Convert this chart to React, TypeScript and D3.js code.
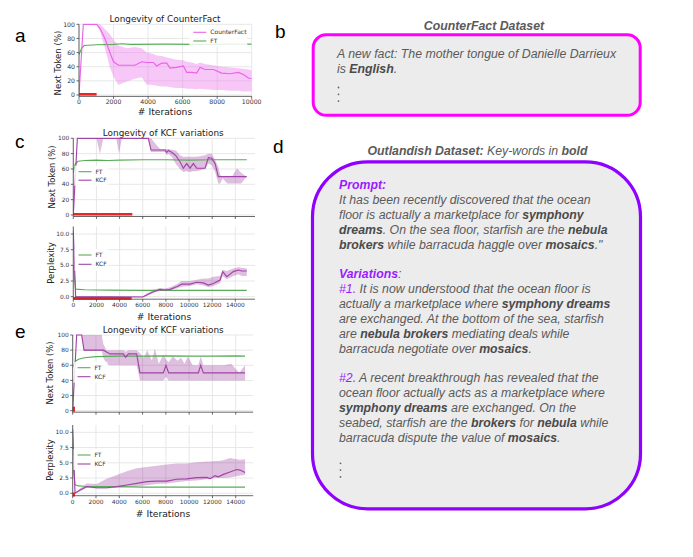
import * as d3 from 'd3';

// ---- panel a: CounterFact ----
const cfIters = [0, 250, 1020, 1220, 1500, 1800, 2000, 2280, 2760, 3240, 3630, 3920, 4300, 4500, 4790, 5080, 5270, 5660, 6040, 6240, 6530, 6810, 7010, 7300, 7780, 8260, 8750, 9230, 9520, 9810, 10000];
const cfMean = [0, 100, 100, 94, 80, 59, 47, 42, 42, 42, 47, 46, 46, 41, 45, 45, 38, 39, 41, 32, 32, 31, 39, 36, 36, 31, 30, 32, 29, 24, 23];
const cfUpper = [0, 100, 100, 100, 93, 86, 78, 70, 66, 68, 66, 60, 58, 56, 55, 53, 52, 50, 49, 47, 46, 44, 46, 44, 42, 40, 39, 38, 37, 36, 35];
const cfLower = [0, 100, 100, 90, 66, 38, 26, 14, 19, 23, 25, 15, 14, 13, 12, 12, 11, 10, 10, 9, 9, 8, 9, 8, 7, 7, 6, 6, 5, 5, 5];
const ftAIters = [0, 150, 300, 1000, 2000, 2500, 3000, 5000, 7000, 9000, 10000];
const ftA = [57, 66, 70, 71, 71.5, 72.5, 71.5, 72, 71.5, 72, 72];

// ---- panel c: KCF, next token ----
const kcfCIters = [0, 350, 6480, 6720, 7925, 8075, 8215, 8505, 8875, 9220, 9510, 9800, 10085, 10370, 10665, 11385, 11670, 11960, 12250, 12530, 14990];
const kcfC = [0, 100, 100, 84.7, 84.7, 81.7, 84, 81.7, 77, 69.5, 61, 67, 61, 67, 61, 61, 74.7, 74, 67, 50, 50];
const kcfCBandIters = [0, 350, 2000, 2300, 2600, 3700, 3950, 4200, 6480, 6720, 7200, 7500, 7925, 8075, 8215, 8505, 8875, 9220, 9510, 9800, 10085, 10370, 10665, 11385, 11670, 11960, 12250, 12530, 12700, 12900, 13300, 13700, 14150, 14500, 14990];
const kcfCUpper = [0, 100, 100, 100, 100, 100, 100, 100, 100, 100, 91, 86, 86, 86, 86, 85, 84, 78, 76, 76, 76, 76, 76, 78, 80, 80, 72, 63, 52, 50, 50, 50, 61, 55, 50];
const kcfCLower = [0, 100, 100, 80, 100, 100, 80, 100, 100, 82, 82, 82, 82, 78, 80, 76, 66, 60, 56, 57, 56, 57, 57, 60, 67, 65, 56, 41, 41, 48, 41, 41, 41, 41, 50];
const ftCIters = [0, 150, 400, 1000, 2000, 3000, 4000, 6000, 8000, 10000, 12000, 14990];
const ftC = [55, 66, 70, 71, 71.5, 71, 71.5, 72, 72, 71.5, 72, 72];

// ---- panel c: KCF, perplexity ----
const pplCIters = [0, 200, 6000, 6340, 6920, 7490, 7920, 8360, 8930, 9370, 10090, 10660, 11240, 11670, 12100, 12680, 12910, 13260, 13830, 14270, 14550, 14990];
const pplC = [10.5, 0, -0.05, 0.27, 0.8, 1.17, 1.06, 1.17, 1.6, 2.0, 2.0, 2.3, 2.2, 1.86, 2.1, 2.66, 4.0, 3.2, 4.0, 4.25, 4.1, 4.1];
const pplCUpper = [10.5, 0.1, 0.05, 0.5, 1.1, 1.4, 1.3, 1.5, 2.0, 2.5, 2.5, 2.7, 2.9, 2.9, 3.2, 3.3, 4.3, 4.1, 4.5, 4.7, 4.6, 4.5];
const pplCLower = [10.5, -0.1, -0.05, 0.1, 0.6, 0.9, 0.9, 1.0, 1.3, 1.6, 1.7, 2.0, 1.8, 1.5, 1.7, 2.2, 3.3, 2.8, 3.3, 3.6, 3.3, 3.3];
const ftPplCIters = [0, 200, 1000, 3000, 6000, 10000, 14990];
const ftPplC = [5.0, 1.2, 1.1, 1.05, 1.0, 1.0, 1.0];

// ---- panel e: KCF, next token ----
const kcfEIters = [0, 340, 770, 970, 2630, 3200, 4350, 4550, 4780, 5490, 5780, 7780, 8010, 8240, 10790, 10990, 11220, 14800];
const kcfE = [0, 100, 100, 80, 80, 75, 75, 70.5, 75, 75, 50, 50, 60, 50, 50, 60, 50, 50];
const kcfEBandIters = [0, 340, 770, 970, 2490, 2630, 2900, 3200, 4350, 4550, 4780, 5490, 5780, 6100, 6400, 6800, 7050, 7400, 7780, 8010, 8240, 8600, 9000, 9300, 9600, 9900, 10300, 10790, 10990, 11220, 12000, 13000, 13600, 14300, 14800];
const kcfEUpper = [0, 100, 100, 100, 100, 88, 80, 80, 80, 78, 80, 80, 76, 70, 80, 66, 82, 62, 74, 68, 64, 72, 66, 70, 62, 72, 60, 60, 72, 60, 60, 60, 62, 50, 60];
const kcfELower = [0, 100, 100, 79, 79, 70, 62, 60, 60, 60, 60, 60, 40, 40, 40, 40, 40, 40, 40, 45, 40, 40, 40, 40, 40, 40, 40, 40, 40, 40, 40, 40, 40, 40, 40];
const ftEIters = [0, 200, 500, 1000, 2000, 4000, 6000, 8000, 10000, 12000, 14000, 14800];
const ftE = [57, 65, 68, 70, 71.5, 72, 72, 72.5, 72, 72, 72.5, 72];

// ---- panel e: KCF, perplexity ----
const pplEIters = [0, 200, 630, 1200, 2060, 2920, 3780, 4640, 5500, 6360, 7210, 8070, 8930, 9790, 10650, 11510, 11800, 12220, 12500, 12940, 13510, 14080, 14370, 14800];
const pplE = [10.5, 0, 0.54, 1.08, 0.9, 0.9, 1.08, 1.36, 1.63, 1.9, 2.0, 2.0, 2.3, 2.35, 2.57, 2.6, 2.4, 2.9, 2.7, 3.1, 3.5, 3.9, 3.8, 3.4];
const pplEUpper = [10.5, 0.1, 0.8, 1.6, 1.5, 2.4, 3.0, 3.6, 4.1, 4.3, 4.5, 4.7, 4.9, 4.9, 5.1, 5.2, 5.2, 5.3, 5.3, 5.4, 5.8, 5.6, 5.5, 5.6];
const pplELower = [10.5, -0.1, 0.3, 0.9, 0.8, 0.8, 0.9, 1.0, 1.1, 1.3, 1.5, 1.6, 1.8, 2.0, 2.1, 2.3, 2.3, 2.5, 2.5, 2.5, 2.6, 2.8, 2.9, 3.0];
const ftPplEIters = [0, 200, 500, 1000, 2000, 4000, 6000, 10000, 14800];
const ftPplE = [5.0, 1.4, 1.2, 1.15, 1.1, 1.1, 1.0, 1.0, 1.0];

const pctTicks = [0, 20, 40, 60, 80, 100];
const pplTicks = [0, 2.5, 5, 7.5, 10];
const iterTicksA = [0, 2000, 4000, 6000, 8000, 10000];
const iterTicks = [0, 2000, 4000, 6000, 8000, 10000, 12000, 14000];

const PINK = '#eb62eb';
const PURPLE = '#a044a6';
const GREEN = '#58ac58';
const RED = '#ee2424';
const GRAY = '#5a5a5a';
const ACCENT = '#9b1cff';

interface Series { iters: number[]; values: number[]; color: string }
interface Band { iters: number[]; upper: number[]; lower: number[]; color: string; opacity: number }
interface PlotProps {
  id: string;
  left: number; right: number; top: number; bottom: number;
  xDomain: [number, number]; yDomain: [number, number];
  xTicks: number[]; yTicks: number[];
  yFmt: (v: number) => string;
  xLabels: boolean;
  tickFont: number;
  bands: Band[]; lines: Series[];
  red: { from: number; to: number; y: number; width: number };
  legend: { x: number; y: number; dy: number; w: number; items: { label: string; color: string }[] };
}

function Subplot(p: PlotProps) {
  const x = d3.scaleLinear().domain(p.xDomain).range([p.left, p.right]);
  const y = d3.scaleLinear().domain(p.yDomain).range([p.bottom, p.top]);
  const line = (s: Series) =>
    d3.line<number>().x((_, i) => x(s.iters[i])).y(v => y(v))(s.values) || '';
  const area = (b: Band) =>
    d3.area<number>().x((_, i) => x(b.iters[i])).y0((_, i) => y(b.lower[i])).y1(v => y(v))(b.upper) || '';
  const lg = p.legend;
  return (
    <g>
      <defs>
        <clipPath id={p.id}>
          <rect x={p.left} y={p.top - 1} width={p.right - p.left} height={p.bottom - p.top + 1} />
        </clipPath>
      </defs>
      {/* grid */}
      {p.xTicks.map(t => (
        <line key={'gx' + t} x1={x(t)} x2={x(t)} y1={p.top} y2={p.bottom} stroke="#e4e4e4" strokeWidth={0.9} />
      ))}
      {p.yTicks.map(t => (
        <line key={'gy' + t} x1={p.left} x2={p.right} y1={y(t)} y2={y(t)} stroke="#e4e4e4" strokeWidth={0.9} />
      ))}
      <g clipPath={`url(#${p.id})`}>
        {p.bands.map((b, i) => (
          <path key={'b' + i} d={area(b)} fill={b.color} fillOpacity={b.opacity} stroke="none" />
        ))}
        {p.lines.map((s, i) => (
          <path key={'l' + i} d={line(s)} fill="none" stroke={s.color} strokeWidth={1.15} />
        ))}
      </g>
      <line x1={x(p.red.from)} x2={x(p.red.to)} y1={y(p.red.y)} y2={y(p.red.y)} stroke={RED} strokeWidth={p.red.width} />
      {/* spines */}
      <line x1={p.left} x2={p.left} y1={p.top} y2={p.bottom} stroke="#444" strokeWidth={0.8} />
      <line x1={p.left} x2={p.right} y1={p.bottom} y2={p.bottom} stroke="#444" strokeWidth={0.8} />
      {p.xTicks.map(t => (
        <g key={'tx' + t}>
          <line x1={x(t)} x2={x(t)} y1={p.bottom} y2={p.bottom + 2.5} stroke="#444" strokeWidth={0.8} />
          {p.xLabels && (
            <text x={x(t)} y={p.bottom + 3.4 + p.tickFont * 0.75} textAnchor="middle" fontSize={p.tickFont} fill="#333">
              {t}
            </text>
          )}
        </g>
      ))}
      {p.yTicks.map(t => (
        <g key={'ty' + t}>
          <line x1={p.left - 2.5} x2={p.left} y1={y(t)} y2={y(t)} stroke="#444" strokeWidth={0.8} />
          <text x={p.left - 4} y={y(t) + p.tickFont * 0.36} textAnchor="end" fontSize={p.tickFont} fill="#333">
            {p.yFmt(t)}
          </text>
        </g>
      ))}
      {/* legend */}
      <rect x={lg.x - 4} y={lg.y - 6} width={lg.w} height={lg.dy * lg.items.length + 3} fill="#fff" fillOpacity={0.85} />
      {lg.items.map((it, i) => (
        <g key={'lg' + i}>
          <line x1={lg.x} x2={lg.x + 13} y1={lg.y + i * lg.dy} y2={lg.y + i * lg.dy} stroke={it.color} strokeWidth={1.1} />
          <text x={lg.x + 17} y={lg.y + i * lg.dy + 2.1} fontSize={6} fill="#333">{it.label}</text>
        </g>
      ))}
    </g>
  );
}

type Run = { t: string; b?: boolean; c?: string };
const promptLines: Run[][] = [
  [{ t: 'Prompt:', b: true, c: ACCENT }],
  [{ t: 'It has been recently discovered that the ocean' }],
  [{ t: 'floor is actually a marketplace for ' }, { t: 'symphony', b: true }],
  [{ t: 'dreams', b: true }, { t: '. On the sea floor, starfish are the ' }, { t: 'nebula', b: true }],
  [{ t: 'brokers', b: true }, { t: ' while barracuda haggle over ' }, { t: 'mosaics', b: true }, { t: '."' }],
  [],
  [{ t: 'Variations', b: true, c: ACCENT }, { t: ':' }],
  [{ t: '#1.', c: ACCENT }, { t: ' It is now understood that the ocean floor is' }],
  [{ t: 'actually a marketplace where ' }, { t: 'symphony dreams', b: true }],
  [{ t: 'are exchanged. At the bottom of the sea, starfish' }],
  [{ t: 'are ' }, { t: 'nebula brokers', b: true }, { t: ' mediating deals while' }],
  [{ t: 'barracuda negotiate over ' }, { t: 'mosaics', b: true }, { t: '.' }],
  [],
  [{ t: '#2.', c: ACCENT }, { t: ' A recent breakthrough has revealed that the' }],
  [{ t: 'ocean floor actually acts as a marketplace where' }],
  [{ t: 'symphony dreams', b: true }, { t: ' are exchanged. On the' }],
  [{ t: 'seabed, starfish are the ' }, { t: 'brokers', b: true }, { t: ' for ' }, { t: 'nebula', b: true }, { t: ' while' }],
  [{ t: 'barracuda dispute the value of ' }, { t: 'mosaics', b: true }, { t: '.' }],
];
const factLines: Run[][] = [
  [{ t: 'A new fact: The mother tongue of Danielle Darrieux' }],
  [{ t: 'is ' }, { t: 'English', b: true }, { t: '.' }],
];

function TextBlock({ lines, x, y, lh }: { lines: Run[][]; x: number; y: number; lh: number }) {
  return (
    <text fontFamily="'Liberation Sans', Arial, sans-serif" fontStyle="italic" fontSize={12.3} fill={GRAY}>
      {lines.map((ln, i) => (
        <tspan key={i} x={x} y={y + i * lh}>
          {ln.map((r, j) => (
            <tspan key={j} fontWeight={r.b ? 'bold' : 'normal'} fill={r.c || (r.b ? '#4a4a4a' : GRAY)}>
              {r.t}
            </tspan>
          ))}
        </tspan>
      ))}
    </text>
  );
}

function Dots({ x, y }: { x: number; y: number }) {
  return (
    <g fill="#666">
      {[0, 1, 2].map(i => <circle key={i} cx={x} cy={y + i * 6.8} r={0.9} />)}
    </g>
  );
}

const f0 = (v: number) => String(v);
const f1 = (v: number) => v.toFixed(1);

export default function App() {
  const letter = { fontFamily: "'Liberation Sans', Arial, sans-serif", fontSize: 19, fill: '#000' } as const;
  const tAttr = { fontSize: 8.9, fill: '#222', textAnchor: 'middle' as const };
  return (
    <svg width={693} height={557} style={{ position: 'absolute', left: 0, top: 0, background: '#fff' }}
      fontFamily="'DejaVu Sans', sans-serif">
      {/* panel letters */}
      <text x={15} y={41.7} {...letter}>a</text>
      <text x={275} y={38} {...letter}>b</text>
      <text x={15} y={148} {...letter}>c</text>
      <text x={273} y={153} {...letter}>d</text>
      <text x={15} y={338} {...letter}>e</text>

      {/* ---- a ---- */}
      <text x={165} y={21.5} {...tAttr}>Longevity of CounterFact</text>
      <Subplot id="ca" left={79} right={251.7} top={24.3} bottom={96.4}
        xDomain={[0, 10000]} yDomain={[-2, 100]} xTicks={iterTicksA} yTicks={pctTicks}
        yFmt={f0} xLabels tickFont={6.2}
        bands={[{ iters: cfIters, upper: cfUpper, lower: cfLower, color: '#ee82ee', opacity: 0.45 }]}
        lines={[{ iters: ftAIters, values: ftA, color: GREEN }, { iters: cfIters, values: cfMean, color: PINK }]}
        red={{ from: 0, to: 1020, y: 1, width: 2.6 }}
        legend={{ x: 193.3, y: 32.3, dy: 8.7, w: 58, items: [{ label: 'CounterFact', color: PINK }, { label: 'FT', color: GREEN }] }} />
      <text transform="translate(61,63) rotate(-90)" fontSize={8.6} textAnchor="middle" fill="#222">Next Token (%)</text>
      <text x={165} y={114.5} fontSize={9.2} textAnchor="middle" fill="#222"># Iterations</text>

      {/* ---- c ---- */}
      <text x={163.3} y={135.5} {...tAttr}>Longevity of KCF variations</text>
      <Subplot id="cc1" left={73.3} right={255} top={138.3} bottom={216.5}
        xDomain={[0, 15700]} yDomain={[-2, 100]} xTicks={iterTicks} yTicks={pctTicks}
        yFmt={f0} xLabels={false} tickFont={5.9}
        bands={[{ iters: kcfCBandIters, upper: kcfCUpper, lower: kcfCLower, color: '#800080', opacity: 0.25 }]}
        lines={[{ iters: ftCIters, values: ftC, color: GREEN }, { iters: kcfCIters, values: kcfC, color: PURPLE }]}
        red={{ from: 0, to: 5100, y: 1, width: 2.6 }}
        legend={{ x: 78.5, y: 171.7, dy: 8.5, w: 34, items: [{ label: 'FT', color: GREEN }, { label: 'KCF', color: PURPLE }] }} />
      <text transform="translate(55,177) rotate(-90)" fontSize={8.4} textAnchor="middle" fill="#222">Next Token (%)</text>
      <Subplot id="cc2" left={73.3} right={255} top={226.5} bottom={299.2}
        xDomain={[0, 15700]} yDomain={[-0.4, 11.2]} xTicks={iterTicks} yTicks={pplTicks}
        yFmt={f1} xLabels tickFont={5.9}
        bands={[{ iters: pplCIters, upper: pplCUpper, lower: pplCLower, color: '#800080', opacity: 0.25 }]}
        lines={[{ iters: ftPplCIters, values: ftPplC, color: GREEN }, { iters: pplCIters, values: pplC, color: PURPLE }]}
        red={{ from: 0, to: 5040, y: -0.27, width: 2.6 }}
        legend={{ x: 78.5, y: 255, dy: 9.3, w: 34, items: [{ label: 'FT', color: GREEN }, { label: 'KCF', color: PURPLE }] }} />
      <text transform="translate(54,263) rotate(-90)" fontSize={8.4} textAnchor="middle" fill="#222">Perplexity</text>
      <text x={164} y={320} fontSize={9.2} textAnchor="middle" fill="#222"># Iterations</text>

      {/* ---- e ---- */}
      <text x={163.3} y={332.5} {...tAttr}>Longevity of KCF variations</text>
      <Subplot id="ce1" left={72.7} right={253.2} top={335} bottom={412.2}
        xDomain={[0, 15500]} yDomain={[-2, 100]} xTicks={iterTicks} yTicks={pctTicks}
        yFmt={f0} xLabels={false} tickFont={5.9}
        bands={[{ iters: kcfEBandIters, upper: kcfEUpper, lower: kcfELower, color: '#800080', opacity: 0.25 }]}
        lines={[{ iters: ftEIters, values: ftE, color: GREEN }, { iters: kcfEIters, values: kcfE, color: PURPLE }]}
        red={{ from: 0, to: 200, y: 2, width: 5 }}
        legend={{ x: 77.5, y: 367.7, dy: 9, w: 34, items: [{ label: 'FT', color: GREEN }, { label: 'KCF', color: PURPLE }] }} />
      <text transform="translate(53,373) rotate(-90)" fontSize={8.4} textAnchor="middle" fill="#222">Next Token (%)</text>
      <Subplot id="ce2" left={72.7} right={253.2} top={425} bottom={495.7}
        xDomain={[0, 15500]} yDomain={[-0.4, 11.2]} xTicks={iterTicks} yTicks={pplTicks}
        yFmt={f1} xLabels tickFont={5.9}
        bands={[{ iters: pplEIters, upper: pplEUpper, lower: pplELower, color: '#800080', opacity: 0.25 }]}
        lines={[{ iters: ftPplEIters, values: ftPplE, color: GREEN }, { iters: pplEIters, values: pplE, color: PURPLE }]}
        red={{ from: 0, to: 200, y: -0.2, width: 4 }}
        legend={{ x: 77.5, y: 455, dy: 9, w: 34, items: [{ label: 'FT', color: GREEN }, { label: 'KCF', color: PURPLE }] }} />
      <text transform="translate(53,460) rotate(-90)" fontSize={8.4} textAnchor="middle" fill="#222">Perplexity</text>
      <text x={163} y={516.5} fontSize={9.2} textAnchor="middle" fill="#222"># Iterations</text>

      {/* ---- b ---- */}
      <text x={484} y={29.5} textAnchor="middle" fontFamily="'Liberation Sans', Arial, sans-serif"
        fontStyle="italic" fontWeight="bold" fontSize={12.3} fill={GRAY}>CounterFact Dataset</text>
      <rect x={313.2} y={34.8} width={327} height={80.5} rx={13} fill="#ececec" stroke="#ff00ff" strokeWidth={3} />
      <TextBlock lines={factLines} x={337} y={57.6} lh={15} />
      <Dots x={338.5} y={87.5} />

      {/* ---- d ---- */}
      <text x={477.5} y={155} textAnchor="middle" fontFamily="'Liberation Sans', Arial, sans-serif"
        fontStyle="italic" fontSize={12.3} fill={GRAY}>
        <tspan fontWeight="bold">Outlandish Dataset:</tspan>
        <tspan> Key-words in </tspan>
        <tspan fontWeight="bold">bold</tspan>
      </text>
      <rect x={312.5} y={161.8} width={328} height={347} rx={55} fill="#ececec" stroke="#8f00ff" strokeWidth={3.2} />
      <TextBlock lines={promptLines} x={339} y={189.2} lh={14.85} />
      <Dots x={340.5} y={463.3} />
    </svg>
  );
}
